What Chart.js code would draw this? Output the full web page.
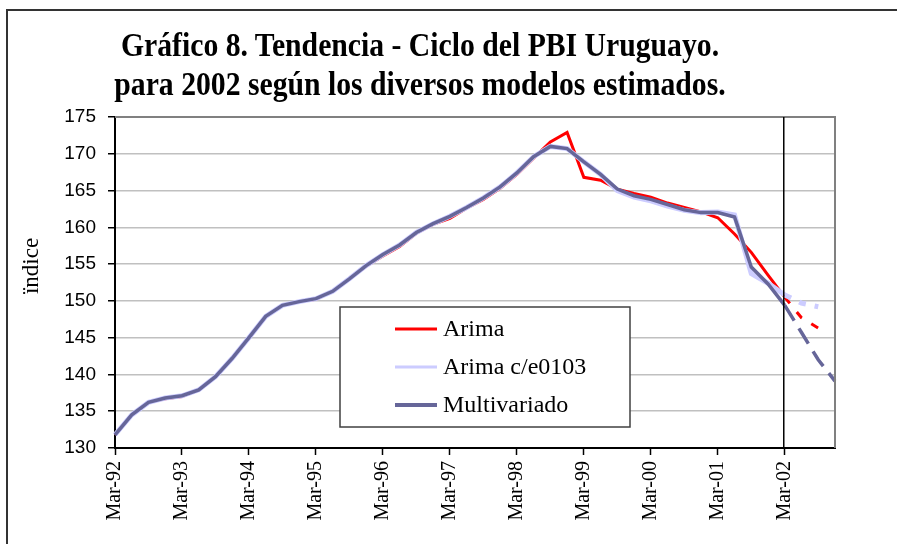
<!DOCTYPE html>
<html>
<head>
<meta charset="utf-8">
<script src="https://cdn.jsdelivr.net/npm/chart.js@4.4.1/dist/chart.umd.min.js"></script>
<style>
    body { margin: 0; background: #fff; }
    #wrap { position: relative; width: 897px; height: 544px; overflow: hidden; }
    #frame { position: absolute; left: 6px; top: 9px; width: 900px; height: 600px; border: 2px solid #333; box-sizing: border-box; }
    #title { position: absolute; left: 0; top: 26px; width: 840px; text-align: center;
             font: bold 33px 'Liberation Serif', 'Times New Roman', serif; line-height: 39px; color: #000;
             transform: scaleX(0.9); transform-origin: 420px 0; }
    canvas { position: absolute; left: 0; top: 0; }
</style>
</head>
<body>
<div id="wrap">
    <div id="frame"></div>
    <canvas id="chart" width="897" height="544"></canvas>
    <div id="title">Gráfico 8. Tendencia - Ciclo del PBI Uruguayo.<br>para 2002 según los diversos modelos estimados.</div>
</div>
<script>
// quarterly series, Mar-92 .. Dec-02
const years = ['92', '93', '94', '95', '96', '97', '98', '99', '00', '01', '02'];
const months = ['Mar', 'Jun', 'Sep', 'Dec'];
const quarters = [];
years.forEach(y => months.forEach(m => quarters.push(m + '-' + y)));

const yTicks = { min: 130, max: 175, step: 5 };
const forecastFrom = 40; // Mar-02, values after it are projections
const yTitle = 'ïndice';

const arima = [
    131.8, 134.5, 136.2, 136.7, 137.0, 137.9, 139.7, 142.2,
    144.9, 147.8, 149.4, 149.9, 150.2, 151.3, 153.0, 154.7,
    156.1, 157.4, 159.2, 160.4, 161.2, 162.6, 163.8, 165.3,
    167.2, 169.4, 171.6, 172.9, 166.8, 166.4, 165.2, 164.6,
    164.1, 163.3, 162.7, 162.1, 161.3, 159.1, 156.6, 153.5,
    150.5, 147.7, 146.3, null
];
const arimaCe = [
    131.8, 134.5, 136.2, 136.8, 137.1, 137.9, 139.7, 142.2,
    145.0, 147.9, 149.4, 149.9, 150.3, 151.3, 153.0, 154.8,
    156.3, 157.6, 159.3, 160.5, 161.5, 162.7, 164.0, 165.5,
    167.4, 169.6, 171.0, 170.7, 168.9, 167.2, 165.0, 164.1,
    163.6, 162.9, 162.3, 162.0, 162.1, 161.7, 153.7, 152.4,
    150.8, 149.7, 149.2, null
];
const multivariado = [
    131.8, 134.5, 136.2, 136.8, 137.1, 137.9, 139.7, 142.2,
    145.0, 147.9, 149.4, 149.9, 150.3, 151.3, 153.0, 154.8,
    156.3, 157.6, 159.3, 160.5, 161.5, 162.7, 164.0, 165.5,
    167.4, 169.6, 171.0, 170.7, 168.9, 167.2, 165.2, 164.3,
    163.8, 163.1, 162.4, 162.0, 162.0, 161.4, 154.6, 152.3,
    149.4, 145.7, 142.0, 139.1
];

const serif = "'Liberation Serif', 'Times New Roman', serif";
const sans = "'Liberation Sans', Arial, sans-serif";

function dashAfter(pattern) {
    return ctx => ctx.p0DataIndex >= forecastFrom ? pattern : undefined;
}

// plot frame, projection marker, axis title and boxed legend
const framePlugin = {
    id: 'frame',
    afterDatasetsDraw(chart) {
        const { ctx, chartArea: a, scales: { x } } = chart;
        ctx.save();
        ctx.strokeStyle = '#808080';
        ctx.lineWidth = 2;
        ctx.beginPath();
        ctx.moveTo(a.left, a.top);
        ctx.lineTo(a.right, a.top);
        ctx.lineTo(a.right, a.bottom);
        ctx.stroke();

        const fx = x.getPixelForValue(forecastFrom) - 1;
        ctx.strokeStyle = '#000';
        ctx.lineWidth = 1.5;
        ctx.beginPath();
        ctx.moveTo(fx, a.top);
        ctx.lineTo(fx, a.bottom);
        ctx.stroke();

        // y axis title, a little above the middle as in the original
        ctx.save();
        ctx.translate(32, 266);
        ctx.rotate(-Math.PI / 2);
        ctx.fillStyle = '#000';
        ctx.font = '23px ' + serif;
        ctx.textAlign = 'center';
        ctx.textBaseline = 'middle';
        ctx.fillText(yTitle, 0, 0);
        ctx.restore();

        // legend box
        const bx = 340, by = 307, bw = 290, bh = 120;
        ctx.fillStyle = '#fff';
        ctx.fillRect(bx, by, bw, bh);
        ctx.strokeStyle = '#404040';
        ctx.lineWidth = 1.5;
        ctx.strokeRect(bx, by, bw, bh);
        ctx.font = '24px ' + serif;
        ctx.textBaseline = 'middle';
        ctx.textAlign = 'left';
        chart.data.datasets.forEach((ds, i) => {
            const ly = by + 22 + i * 38;
            ctx.strokeStyle = ds.borderColor;
            ctx.lineWidth = ds.legendWidth;
            ctx.beginPath();
            ctx.moveTo(bx + 55, ly);
            ctx.lineTo(bx + 97, ly);
            ctx.stroke();
            ctx.fillStyle = '#000';
            ctx.fillText(ds.label, bx + 103, ly + 1);
        });
        ctx.restore();
    }
};

new Chart(document.getElementById('chart').getContext('2d'), {
    type: 'line',
    data: {
        labels: quarters,
        datasets: [
            {
                label: 'Arima', data: arima, borderColor: '#ff0000', borderWidth: 3, legendWidth: 3,
                pointRadius: 0, order: 2, segment: { borderDash: dashAfter([8, 11]) }
            },
            {
                label: 'Arima c/e0103', data: arimaCe, borderColor: '#ccccff', borderWidth: 5, legendWidth: 3,
                pointRadius: 0, order: 1, segment: { borderDash: dashAfter([7, 9]) }
            },
            {
                label: 'Multivariado', data: multivariado, borderColor: '#666699', borderWidth: 3.5, legendWidth: 4,
                pointRadius: 0, order: 0, segment: { borderDash: dashAfter([18, 9]) }
            }
        ]
    },
    options: {
        responsive: false,
        animation: false,
        layout: { padding: { top: 117, right: 62, left: 0, bottom: 0 } },
        plugins: {
            legend: { display: false },
            tooltip: { enabled: false }
        },
        scales: {
            x: {
                offset: false,
                grid: {
                    drawOnChartArea: false,
                    tickLength: 7,
                    tickWidth: 1.5,
                    tickColor: ctx => ctx.index % 4 === 0 ? '#000' : 'rgba(0,0,0,0)'
                },
                border: { color: '#000', width: 2 },
                ticks: {
                    autoSkip: false,
                    minRotation: 90,
                    maxRotation: 90,
                    padding: 6,
                    color: '#000',
                    font: { family: serif, size: 20 },
                    callback: function (v, i) { return i % 4 === 0 ? this.getLabelForValue(v) : ''; }
                },
                afterFit: s => { s.height = 96; }
            },
            y: {
                min: yTicks.min,
                max: yTicks.max,
                ticks: { stepSize: yTicks.step, padding: 12, color: '#000', font: { family: sans, size: 19 } },
                grid: { color: '#c0c0c0', lineWidth: 1.5, tickLength: 7, tickColor: '#000' },
                border: { color: '#000', width: 2 },
                afterFit: s => { s.width = 115; }
            }
        }
    },
    plugins: [framePlugin]
});
</script>
</body>
</html>
